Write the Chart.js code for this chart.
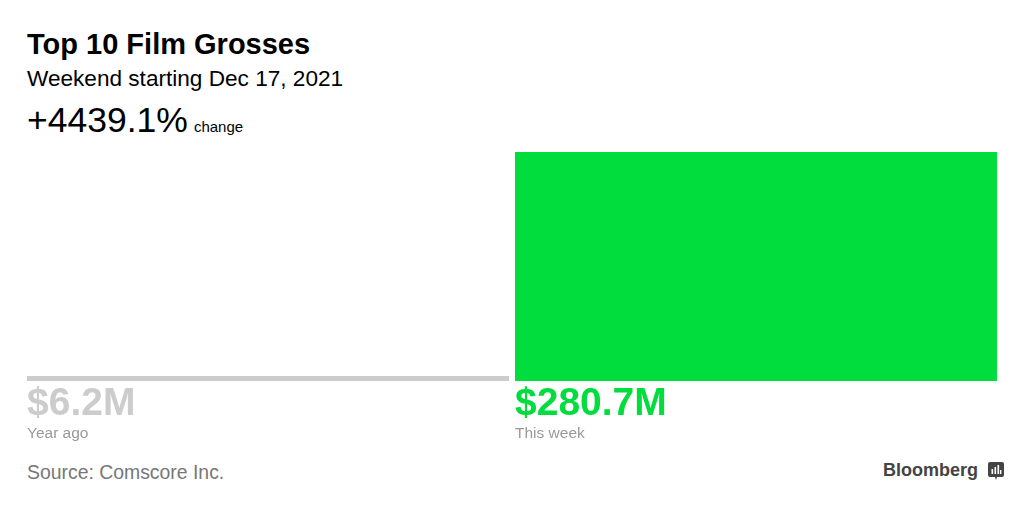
<!DOCTYPE html>
<html>
<head>
<meta charset="utf-8">
<script src="https://cdn.jsdelivr.net/npm/chart.js@4"></script>
<style>
  html, body { margin: 0; padding: 0; background: #fff; }
  body { width: 1024px; height: 509px; position: relative; overflow: hidden; font-family: "Liberation Sans", Arial, sans-serif; }
  .txt { position: absolute; left: 27px; white-space: nowrap; line-height: 1; }
  #chartBox { position: absolute; left: 0; top: 0; width: 1024px; height: 509px; }
  #logo { position: absolute; left: 883px; top: 461px; font-weight: bold; font-size: 18px; color: #444; line-height: 1; }
  #logo svg { position: absolute; left: 105px; top: 1px; }
</style>
</head>
<body>
<div class="txt" style="top:30px;font-size:29px;font-weight:bold;color:#000;">Top 10 Film Grosses</div>
<div class="txt" style="top:68px;font-size:22.6px;color:#000;">Weekend starting Dec 17, 2021</div>
<div class="txt" style="top:103px;font-size:35.5px;color:#000;">+4439.1%<span style="font-size:15px;margin-left:6px;">change</span></div>
<div class="txt" style="top:463px;font-size:19.4px;color:#777;">Source: Comscore Inc.</div>
<div id="logo">Bloomberg<svg width="16" height="18" viewBox="0 0 16 18"><path d="M2 0h12a2 2 0 0 1 2 2v11a2 2 0 0 1-2 2H9l-1 3-1-3H2a2 2 0 0 1-2-2V2a2 2 0 0 1 2-2z" fill="#444"/><rect x="3.5" y="7" width="1.6" height="5" fill="#fff"/><rect x="6.5" y="5" width="1.6" height="7" fill="#fff"/><rect x="9.5" y="3" width="1.6" height="9" fill="#fff"/><rect x="12" y="8" width="1.4" height="4" fill="#fff"/></svg></div>
<div id="chartBox"><canvas id="grossChart"></canvas></div>
<script>
// weekend grosses, $ millions
const categories = ['Year ago', 'This week'];
const grosses = [6.2, 280.7];
const valueLabels = ['$6.2M', '$280.7M'];
const barColors = ['#cccccc', '#00dd3c'];
const labelColors = ['#cccccc', '#00dd3c'];

// draws "$xM" and the period name under each bar
const barLabels = {
    id: 'barLabels',
    afterDatasetsDraw(chart) {
        const ctx = chart.ctx;
        const meta = chart.getDatasetMeta(0);
        const base = chart.chartArea.bottom;
        ctx.save();
        ctx.textAlign = 'left';
        ctx.textBaseline = 'alphabetic';
        meta.data.forEach((bar, i) => {
            const left = bar.x - bar.width / 2;
            ctx.fillStyle = labelColors[i];
            ctx.font = 'bold 39px "Liberation Sans", Arial, sans-serif';
            ctx.fillText(valueLabels[i], left, base + 34);
            ctx.fillStyle = '#999999';
            ctx.font = '15.5px "Liberation Sans", Arial, sans-serif';
            ctx.fillText(categories[i], left, base + 57);
        });
        ctx.restore();
    }
};

const ctx = document.getElementById('grossChart').getContext('2d');
const grossChart = new Chart(ctx, {
    type: 'bar',
    data: {
        labels: categories,
        datasets: [{
            data: grosses,
            backgroundColor: barColors,
            borderWidth: 0,
            barPercentage: 1,
            categoryPercentage: 482 / 488
        }]
    },
    options: {
        responsive: true,
        maintainAspectRatio: false,
        animation: false,
        layout: { padding: { left: 24, right: 24, top: 152, bottom: 128 } },
        plugins: { legend: { display: false }, tooltip: { enabled: false } },
        scales: {
            x: { display: false },
            y: { display: false, min: 0, max: 280.7 }
        }
    },
    plugins: [barLabels]
});
</script>
</body>
</html>
